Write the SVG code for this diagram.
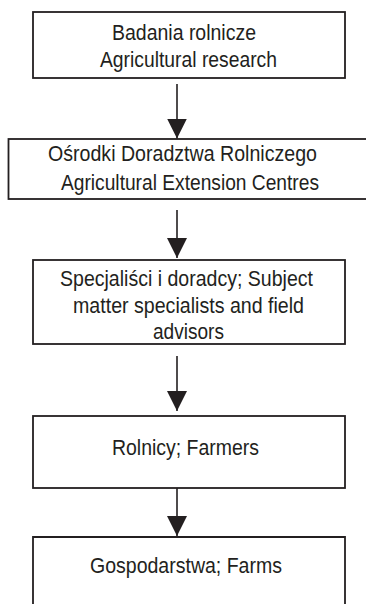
<svg xmlns="http://www.w3.org/2000/svg" width="366" height="604" viewBox="0 0 366 604">
<style>
.box{fill:#fff;stroke:#231f20;stroke-width:1.8}
.t{font-family:"Liberation Sans",Arial,sans-serif;font-size:21.5px;fill:#231f20;text-anchor:middle}
.c{stroke:#231f20;stroke-width:1.6;fill:none}
</style>
<defs>
<marker id="ah" markerUnits="userSpaceOnUse" markerWidth="20" markerHeight="20" viewBox="0 0 20 20" refX="20" refY="10" orient="auto">
<path d="M0,0 L20,10 L0,20 z" fill="#231f20"/>
</marker>
</defs>
<rect width="366" height="604" fill="#fff"/>
<g id="n1">
<rect class="box" x="33" y="12" width="312" height="66"/>
<text class="t" x="184" y="40" textLength="144" lengthAdjust="spacingAndGlyphs">Badania rolnicze</text>
<text class="t" x="188.5" y="67" textLength="177" lengthAdjust="spacingAndGlyphs">Agricultural research</text>
</g>
<g id="n2">
<rect class="box" x="8.5" y="139" width="360" height="60"/>
<text class="t" x="182.5" y="161" textLength="269" lengthAdjust="spacingAndGlyphs">Ośrodki Doradztwa Rolniczego</text>
<text class="t" x="190" y="190" textLength="258" lengthAdjust="spacingAndGlyphs">Agricultural Extension Centres</text>
</g>
<g id="n3">
<rect class="box" x="33" y="260" width="312" height="84"/>
<text class="t" x="186.5" y="286" textLength="253" lengthAdjust="spacingAndGlyphs">Specjaliści i doradcy; Subject</text>
<text class="t" x="188.5" y="312.5" textLength="231" lengthAdjust="spacingAndGlyphs">matter specialists and field</text>
<text class="t" x="188.5" y="339" textLength="71" lengthAdjust="spacingAndGlyphs">advisors</text>
</g>
<g id="n4">
<rect class="box" x="33" y="416" width="312" height="72"/>
<text class="t" x="185.5" y="455" textLength="147" lengthAdjust="spacingAndGlyphs">Rolnicy; Farmers</text>
</g>
<g id="n5">
<path class="box" d="M33,610 V537 H345 V610"/>
<text class="t" x="186" y="573" textLength="192" lengthAdjust="spacingAndGlyphs">Gospodarstwa; Farms</text>
</g>
<g id="connectors">
<line class="c" x1="177" y1="84" x2="177" y2="138.5" marker-end="url(#ah)"/>
<line class="c" x1="177" y1="210" x2="177" y2="258" marker-end="url(#ah)"/>
<line class="c" x1="177" y1="356" x2="177" y2="411" marker-end="url(#ah)"/>
<line class="c" x1="177" y1="488" x2="177" y2="536" marker-end="url(#ah)"/>
</g>
</svg>
